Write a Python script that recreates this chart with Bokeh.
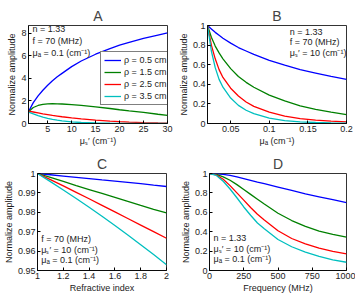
from bokeh.plotting import figure
from bokeh.layouts import column, row
from bokeh.models import Range1d, FixedTicker, Label, Legend, LegendItem
from bokeh.embed import file_html
from bokeh.resources import INLINE

FONT = "Liberation Sans"
COLORS = ["#0000ff", "#008000", "#ff0000", "#00bfbf"]
rho_labels = ["ρ = 0.5 cm", "ρ = 1.5 cm", "ρ = 2.5 cm", "ρ = 3.5 cm"]

# Panel A: amplitude vs reduced scattering
a_x = [1, 2, 3, 4, 5, 6, 7, 8, 10, 12, 15, 18, 20, 22, 25, 28, 30]
a_blue = [1.05, 1.85, 2.45, 2.95, 3.4, 3.8, 4.15, 4.45, 5.05, 5.55, 6.15, 6.65, 6.95, 7.2, 7.55, 7.85, 8.05]
a_green = [1.05, 1.42, 1.6, 1.7, 1.74, 1.76, 1.75, 1.73, 1.67, 1.6, 1.47, 1.33, 1.22, 1.12, 0.98, 0.82, 0.72]
a_red = [1.1, 1.02, 0.94, 0.86, 0.79, 0.72, 0.66, 0.6, 0.5, 0.41, 0.3, 0.21, 0.16, 0.12, 0.08, 0.05, 0.04]
a_cyan = [1.0, 0.85, 0.7, 0.57, 0.46, 0.37, 0.3, 0.24, 0.15, 0.09, 0.045, 0.02, 0.012, 0.007, 0.003, 0.001, 0.0]
a_xticks = [5, 10, 15, 20, 25, 30]
a_xlabels = ["5", "10", "15", "20", "25", "30"]
a_yticks = [0, 2, 4, 6, 8]
a_ylabels = ["0", "2", "4", "6", "8"]

# Panel B: amplitude vs absorption
b_x = [0.02, 0.025, 0.03, 0.035, 0.04, 0.05, 0.06, 0.07, 0.08, 0.1, 0.12, 0.14, 0.16, 0.18, 0.2]
b_blue = [1, 0.965, 0.93, 0.9, 0.87, 0.82, 0.775, 0.74, 0.705, 0.645, 0.595, 0.55, 0.515, 0.48, 0.45]
b_green = [1, 0.88, 0.79, 0.72, 0.66, 0.56, 0.48, 0.42, 0.37, 0.29, 0.23, 0.18, 0.145, 0.115, 0.09]
b_red = [1, 0.8, 0.66, 0.55, 0.47, 0.36, 0.28, 0.22, 0.175, 0.115, 0.075, 0.05, 0.034, 0.024, 0.017]
b_cyan = [1, 0.74, 0.57, 0.45, 0.37, 0.26, 0.185, 0.135, 0.1, 0.055, 0.03, 0.017, 0.01, 0.006, 0.004]
b_xticks = [0.05, 0.1, 0.15, 0.2]
b_xlabels = ["0.05", "0.1", "0.15", "0.2"]
b_yticks = [0, 0.2, 0.4, 0.6, 0.8, 1]
b_ylabels = ["0", "0.2", "0.4", "0.6", "0.8", "1"]

# Panel C: amplitude vs refractive index
c_x = [1, 1.1, 1.2, 1.3, 1.4, 1.5, 1.6, 1.7, 1.8, 1.9, 2]
c_blue = [1, 0.99935, 0.9987, 0.99805, 0.9974, 0.9967, 0.99605, 0.9954, 0.99475, 0.9940, 0.9933]
c_green = [1, 0.99795, 0.9959, 0.9938, 0.99175, 0.9897, 0.98765, 0.9856, 0.98355, 0.98155, 0.9797]
c_red = [1, 0.9968, 0.9936, 0.9903, 0.987, 0.9836, 0.9802, 0.9768, 0.9734, 0.97, 0.9666]
c_cyan = [1, 0.9958, 0.9915, 0.9871, 0.9826, 0.978, 0.9732, 0.9683, 0.9633, 0.9582, 0.953]
c_xticks = [1, 1.2, 1.4, 1.6, 1.8, 2]
c_xlabels = ["1", "1.2", "1.4", "1.6", "1.8", "2"]
c_yticks = [0.95, 0.96, 0.97, 0.98, 0.99, 1]
c_ylabels = ["0.95", "0.96", "0.97", "0.98", "0.99", "1"]

# Panel D: amplitude vs modulation frequency
d_x = [0, 50, 100, 150, 200, 250, 300, 350, 400, 500, 600, 700, 800, 900, 1000]
d_blue = [1, 0.997, 0.99, 0.98, 0.965, 0.948, 0.93, 0.912, 0.895, 0.86, 0.825, 0.79, 0.76, 0.73, 0.70]
d_green = [1, 0.99, 0.965, 0.93, 0.885, 0.835, 0.785, 0.735, 0.685, 0.59, 0.515, 0.455, 0.405, 0.372, 0.345]
d_red = [1, 0.985, 0.94, 0.875, 0.8, 0.725, 0.65, 0.58, 0.52, 0.41, 0.33, 0.275, 0.23, 0.197, 0.172]
d_cyan = [1, 0.98, 0.92, 0.84, 0.75, 0.655, 0.57, 0.49, 0.43, 0.32, 0.245, 0.19, 0.145, 0.11, 0.085]
d_xticks = [0, 250, 500, 750, 1000]
d_xlabels = ["0", "250", "500", "750", "1000"]
d_yticks = [0, 0.2, 0.4, 0.6, 0.8, 1]
d_ylabels = ["0", "0.2", "0.4", "0.6", "0.8", "1"]

FS = "9px"


def make_panel(title, xr, yr, w, h, bl, br, bt, bb, xlab, xt, xl, yt, yl):
    p = figure(width=w, height=h, x_range=Range1d(*xr), y_range=Range1d(*yr),
               output_backend="svg", toolbar_location=None,
               min_border_left=bl, min_border_right=br,
               min_border_top=bt, min_border_bottom=bb)
    p.title.text = title
    p.title.align = "center"
    p.title.text_font = FONT
    p.title.text_font_size = "14px"
    p.title.text_font_style = "normal"
    p.title.standoff = 3
    p.title.offset = 0
    p.xgrid.visible = False
    p.ygrid.visible = False
    p.outline_line_color = "black"
    p.outline_line_width = 0.8
    p.background_fill_color = "white"
    p.border_fill_color = "white"
    for ax, ticks, labels, lab in ((p.xaxis[0], xt, xl, xlab), (p.yaxis[0], yt, yl, "Normalize amplitude")):
        ax.ticker = FixedTicker(ticks=ticks)
        ax.major_label_overrides = dict(zip(ticks, labels))
        ax.axis_label = lab
        ax.axis_label_text_font = FONT
        ax.axis_label_text_font_size = FS
        ax.axis_label_text_font_style = "normal"
        ax.axis_label_text_color = "#222222"
        ax.axis_label_standoff = 1
        ax.major_label_text_font = FONT
        ax.major_label_text_font_size = FS
        ax.major_label_text_color = "#222222"
        ax.major_label_standoff = 2
        ax.major_tick_in = 3
        ax.major_tick_out = 0
        ax.minor_tick_line_color = None
        ax.axis_line_color = "black"
        ax.axis_line_width = 0.8
    return p


def add_text(p, xr, yr, fw, fh, px, py, text):
    # px, py: pixel offsets from the frame's left / top edges
    x = xr[0] + (xr[1] - xr[0]) * px / fw
    y = yr[1] - (yr[1] - yr[0]) * py / fh
    p.add_layout(Label(x=x, y=y, text=text, text_font=FONT, text_font_size=FS,
                       text_color="#222222", text_baseline="middle", text_align="left"))


series_a = [a_blue, a_green, a_red, a_cyan]
series_b = [b_blue, b_green, b_red, b_cyan]
series_c = [c_blue, c_green, c_red, c_cyan]
series_d = [d_blue, d_green, d_red, d_cyan]

# Panel A
xrA, yrA = (1, 30), (0, 8.7)
pA = make_panel("A", xrA, yrA, 175, 148, 28, 8, 25, 22, "μₛ′ (cm⁻¹)", a_xticks, a_xlabels, a_yticks, a_ylabels)
items = []
for ys, c, lab in zip(series_a, COLORS, rho_labels):
    r = pA.line(a_x, ys, line_color=c, line_width=1.3)
    items.append(LegendItem(label=lab, renderers=[r]))
leg = Legend(items=items, location=(72, 18))
leg.label_text_font = FONT
leg.label_text_font_size = FS
leg.label_text_color = "#222222"
leg.glyph_width = 17
leg.glyph_height = 10
leg.label_height = 10
leg.label_standoff = 3
leg.spacing = 2
leg.padding = 3
leg.margin = 0
leg.border_line_color = "black"
leg.border_line_width = 0.8
leg.background_fill_alpha = 1
pA.add_layout(leg, "center")
add_text(pA, xrA, yrA, 139, 101, 4, 4, "n = 1.33")
add_text(pA, xrA, yrA, 139, 101, 4, 16, "f = 70 (MHz)")
add_text(pA, xrA, yrA, 139, 101, 4, 28, "μₐ = 0.1 (cm⁻¹)")

# Panel B
xrB, yrB = (0.02, 0.2), (0, 1)
pB = make_panel("B", xrB, yrB, 180, 148, 24, 9, 25, 22, "μₐ (cm⁻¹)", b_xticks, b_xlabels, b_yticks, b_ylabels)
for ys, c in zip(series_b, COLORS):
    pB.line(b_x, ys, line_color=c, line_width=1.3)
add_text(pB, xrB, yrB, 147, 101, 87, 7, "n = 1.33")
add_text(pB, xrB, yrB, 147, 101, 87, 17, "f = 70 (MHz)")
add_text(pB, xrB, yrB, 147, 101, 87, 28, "μₛ′ = 10 (cm⁻¹)")

# Panel C
xrC, yrC = (1, 2), (0.95, 1)
pC = make_panel("C", xrC, yrC, 175, 147, 28, 9, 25, 19, "Refractive index", c_xticks, c_xlabels, c_yticks, c_ylabels)
for ys, c in zip(series_c, COLORS):
    pC.line(c_x, ys, line_color=c, line_width=1.3)
add_text(pC, xrC, yrC, 138, 103, 4, 70, "f = 70 (MHz)")
add_text(pC, xrC, yrC, 138, 103, 4, 81, "μₛ′ = 10 (cm⁻¹)")
add_text(pC, xrC, yrC, 138, 103, 4, 92, "μₐ = 0.1 (cm⁻¹)")

# Panel D
xrD, yrD = (0, 1000), (0, 1)
pD = make_panel("D", xrD, yrD, 180, 147, 34, 9, 25, 19, "Frequency (MHz)", d_xticks, d_xlabels, d_yticks, d_ylabels)
for ys, c in zip(series_d, COLORS):
    pD.line(d_x, ys, line_color=c, line_width=1.3)
add_text(pD, xrD, yrD, 137, 103, 4, 69, "n = 1.33")
add_text(pD, xrD, yrD, 137, 103, 4, 80, "μₛ′ = 10 (cm⁻¹)")
add_text(pD, xrD, yrD, 137, 103, 4, 91, "μₐ = 0.1 (cm⁻¹)")

layout = column(row(pA, pB), row(pC, pD))
open("out.html", "w").write(file_html(layout, INLINE))
